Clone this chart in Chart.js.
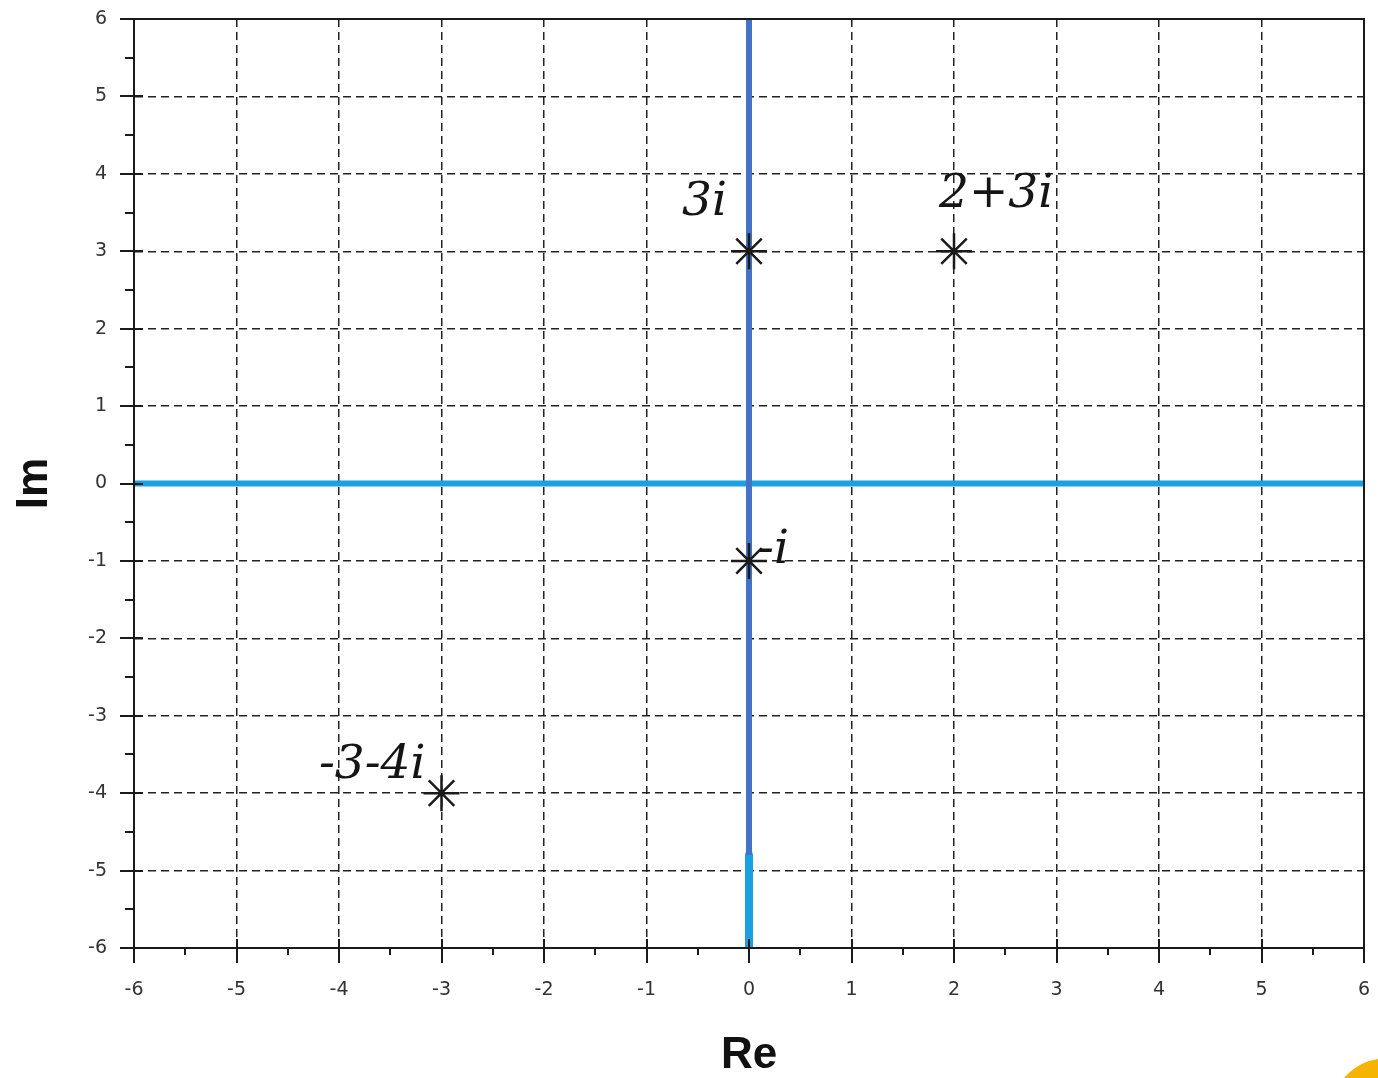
<!DOCTYPE html>
<html>
<head>
<meta charset="utf-8">
<script src="https://cdn.jsdelivr.net/npm/chart.js@4"></script>
<style>
html,body{margin:0;padding:0;background:#fff;}
#wrap{width:1378px;height:1078px;position:relative;}
</style>
</head>
<body>
<div id="wrap"><canvas id="c"></canvas></div>
<script>
// ---- data ----
const axisMin = -6;
const axisMax = 6;
const pointRe = [0, 2, 0, -3];
const pointIm = [3, 3, -1, -4];
const pointLabels = ['3i', '2+3i', '-i', '-3-4i'];
const realAxisRe = [-6, 6];
const realAxisIm = [0, 0];
const imagUpperRe = [0, 0];
const imagUpperIm = [6, -4.8];
const imagLowerRe = [0, 0];
const imagLowerIm = [-4.8, -6];
const xTitle = 'Re';
const yTitle = 'Im';

const toXY = (xs, ys) => xs.map((x, i) => ({x: x, y: ys[i]}));

// label placement relative to the marker (pixels): dx, dy, align
const labelPlacement = [
  {dx: -22, dy: -36, align: 'right'},
  {dx: -15, dy: -44, align: 'left'},
  {dx: 9, dy: 2, align: 'left'},
  {dx: -16, dy: -15, align: 'right'}
];

const decorPlugin = {
  id: 'decor',
  afterDatasetsDraw(chart) {
    const ctx = chart.ctx;
    const xs = chart.scales.x, ys = chart.scales.y;
    const a = chart.chartArea;
    ctx.save();
    ctx.strokeStyle = '#1a1a1a';
    ctx.lineWidth = 2;
    ctx.setLineDash([]);
    ctx.strokeRect(a.left, a.top, a.right - a.left, a.bottom - a.top);
    ctx.beginPath();
    for (let v = axisMin; v <= axisMax + 1e-9; v += 0.5) {
      const major = Math.abs(v - Math.round(v)) < 1e-9;
      const px = Math.round(xs.getPixelForValue(v));
      const py = Math.round(ys.getPixelForValue(v));
      if (major) {
        ctx.moveTo(px, a.bottom - 9); ctx.lineTo(px, a.bottom + 15);
        ctx.moveTo(a.left - 14, py); ctx.lineTo(a.left + 9, py);
      } else {
        ctx.moveTo(px, a.bottom); ctx.lineTo(px, a.bottom + 7);
        ctx.moveTo(a.left - 9, py); ctx.lineTo(a.left, py);
      }
    }
    ctx.stroke();
    ctx.restore();
  },
  afterDraw(chart) {
    const ctx = chart.ctx;
    const xs = chart.scales.x, ys = chart.scales.y;
    ctx.save();
    ctx.fillStyle = '#151515';
    ctx.font = 'italic 47px "DejaVu Serif"';
    ctx.textBaseline = 'alphabetic';
    pointLabels.forEach((t, i) => {
      const p = labelPlacement[i];
      ctx.textAlign = p.align;
      ctx.fillText(t, xs.getPixelForValue(pointRe[i]) + p.dx, ys.getPixelForValue(pointIm[i]) + p.dy);
    });
    const W = chart.width, H = chart.height;
    ctx.fillStyle = '#F5B400';
    ctx.beginPath();
    ctx.moveTo(W - 34, H);
    ctx.quadraticCurveTo(W - 20, H - 16, W, H - 19);
    ctx.lineTo(W, H);
    ctx.closePath();
    ctx.fill();
    ctx.restore();
  }
};

new Chart(document.getElementById('c'), {
  type: 'scatter',
  data: {
    datasets: [
      {
        type: 'line', data: toXY(realAxisRe, realAxisIm),
        borderColor: '#1BA1E2', borderWidth: 6, pointRadius: 0, order: 3
      },
      {
        type: 'line', data: toXY(imagUpperRe, imagUpperIm),
        borderColor: '#4472C4', borderWidth: 6, pointRadius: 0, order: 2
      },
      {
        type: 'line', data: toXY(imagLowerRe, imagLowerIm),
        borderColor: '#1BA1E2', borderWidth: 8, pointRadius: 0, borderCapStyle: 'round', order: 2
      },
      {
        type: 'scatter', data: toXY(pointRe, pointIm),
        pointStyle: 'star', pointRadius: 18, pointBorderColor: '#1a1a1a',
        pointBorderWidth: 2.5, pointBackgroundColor: '#1a1a1a', order: 1
      }
    ]
  },
  options: {
    responsive: true,
    maintainAspectRatio: false,
    animation: false,
    layout: {autoPadding: false, padding: {top: 19, right: 14, left: 0, bottom: 0}},
    plugins: {legend: {display: false}, tooltip: {enabled: false}},
    scales: {
      x: {
        type: 'linear', min: axisMin, max: axisMax,
        ticks: {stepSize: 1, padding: 31, color: '#333', font: {family: 'DejaVu Sans', size: 19}},
        grid: {color: '#222', lineWidth: 1.5, drawTicks: false},
        border: {display: true, color: '#1a1a1a', width: 2, dash: [8, 5]},
        title: {display: true, text: xTitle, color: '#111',
          font: {family: 'Liberation Sans', size: 44, weight: 'bold', lineHeight: 1},
          padding: {top: 0, bottom: 0}},
        afterFit(s) { s.height = 130; s.paddingLeft = 0; s.paddingRight = 0; s.paddingTop = 0; s.paddingBottom = 0; }
      },
      y: {
        type: 'linear', min: axisMin, max: axisMax,
        ticks: {stepSize: 1, padding: 27, color: '#333', font: {family: 'DejaVu Sans', size: 19}},
        grid: {color: '#222', lineWidth: 1.5, drawTicks: false},
        border: {display: true, color: '#1a1a1a', width: 2, dash: [8, 5]},
        title: {display: true, text: yTitle, color: '#111',
          font: {family: 'Liberation Sans', size: 44, weight: 'bold', lineHeight: 1},
          padding: {top: 13, bottom: 0}},
        afterFit(s) { s.width = 134; s.paddingLeft = 0; s.paddingRight = 0; s.paddingTop = 0; s.paddingBottom = 0; }
      }
    }
  },
  plugins: [decorPlugin]
});
</script>
</body>
</html>
